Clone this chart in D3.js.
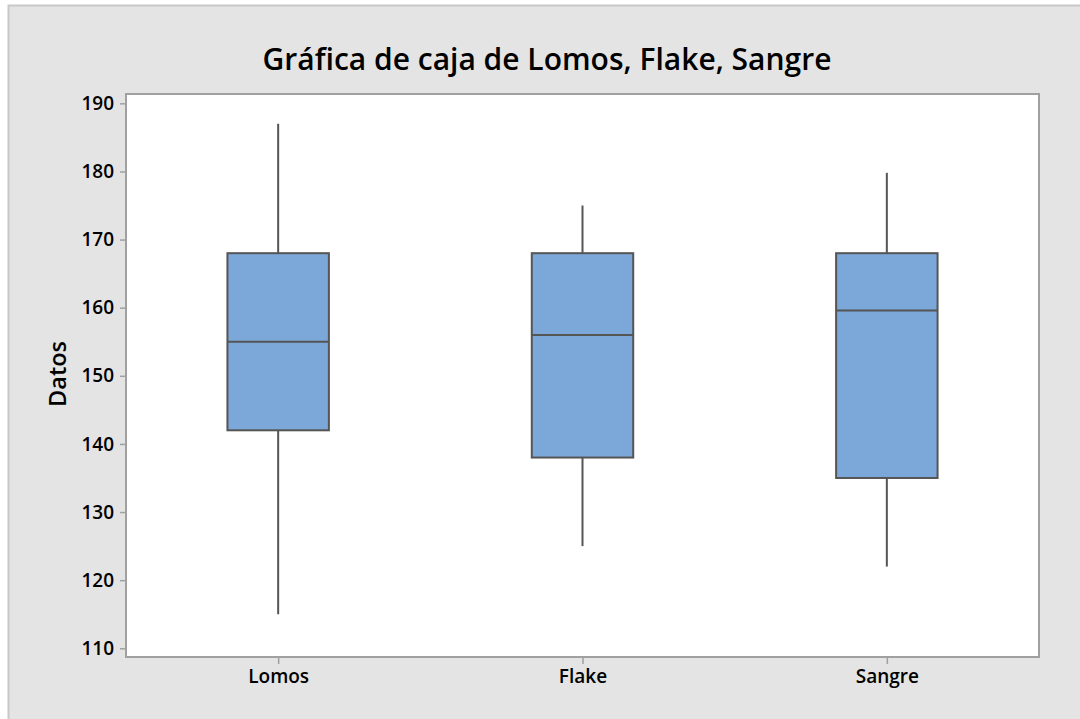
<!DOCTYPE html>
<html>
<head>
<meta charset="utf-8">
<script src="https://cdn.jsdelivr.net/npm/d3@7"></script>
<style>
  body { margin: 0; background: #fff; }
  svg { display: block; }
  text { font-family: "Open Sans", "Noto Sans", sans-serif; fill: #000; }
</style>
</head>
<body>
<div id="chart"></div>
<script>
const w = 1080;
const h = 719;

// values
const categories = ["Lomos", "Flake", "Sangre"];
const mins = [115, 125, 122];
const q1s = [142, 138, 135];
const medians = [155, 156, 159.6];
const q3s = [168, 168, 168];
const maxs = [187, 175, 179.8];
const yTicks = [110, 120, 130, 140, 150, 160, 170, 180, 190];

const plot = { left: 126, right: 1039, top: 94, bottom: 657 };

const svg = d3.select("#chart")
    .append("svg")
    .attr("width", w)
    .attr("height", h);

// outer graph area
svg.append("rect")
    .attr("x", 8.5)
    .attr("y", 5.5)
    .attr("width", w + 20)
    .attr("height", h + 20)
    .attr("fill", "#e4e4e4")
    .attr("stroke", "#c8c8c8")
    .attr("stroke-width", 2);

svg.append("text")
    .attr("x", 547)
    .attr("y", 70)
    .attr("text-anchor", "middle")
    .style("font-size", "30px")
    .style("font-weight", 600)
    .text("Gráfica de caja de Lomos, Flake, Sangre");

// plot area
svg.append("rect")
    .attr("x", plot.left)
    .attr("y", plot.top)
    .attr("width", plot.right - plot.left)
    .attr("height", plot.bottom - plot.top)
    .attr("fill", "#fff")
    .attr("stroke", "#a0a0a0")
    .attr("stroke-width", 2);

const x = d3.scalePoint()
    .domain(categories)
    .range([plot.left, plot.right])
    .padding(0.5);

const y = d3.scaleLinear()
    .domain([108.72, 191.37])
    .range([plot.bottom, plot.top]);

const yAxis = svg.append("g")
    .attr("transform", "translate(" + (plot.left - 1) + ",0)")
    .call(d3.axisLeft(y).tickValues(yTicks).tickSize(5).tickPadding(6));

const xAxis = svg.append("g")
    .attr("transform", "translate(0," + (plot.bottom + 1) + ")")
    .call(d3.axisBottom(x).tickSize(6).tickPadding(6));

[yAxis, xAxis].forEach(function(g) {
    g.select(".domain").remove();
    g.selectAll(".tick line").attr("stroke", "#a0a0a0").attr("stroke-width", 1.5);
    g.selectAll(".tick text")
        .style("font-size", "19px")
        .style("font-weight", 600)
        .style("font-family", "'Open Sans', sans-serif")
        .attr("fill", "#000");
});

svg.append("text")
    .attr("transform", "translate(66,374) rotate(-90)")
    .attr("text-anchor", "middle")
    .style("font-size", "23.5px")
    .style("font-weight", 600)
    .text("Datos");

const boxW = x.step() / 3;

const boxes = svg.selectAll(".box")
    .data(categories)
    .enter()
    .append("g")
    .attr("class", "box");

// whiskers
boxes.append("line")
    .attr("x1", d => x(d)).attr("x2", d => x(d))
    .attr("y1", (d, i) => y(maxs[i]))
    .attr("y2", (d, i) => y(q3s[i]))
    .attr("stroke", "#555").attr("stroke-width", 2);

boxes.append("line")
    .attr("x1", d => x(d)).attr("x2", d => x(d))
    .attr("y1", (d, i) => y(q1s[i]))
    .attr("y2", (d, i) => y(mins[i]))
    .attr("stroke", "#555").attr("stroke-width", 2);

boxes.append("rect")
    .attr("x", d => x(d) - boxW / 2)
    .attr("y", (d, i) => y(q3s[i]))
    .attr("width", boxW)
    .attr("height", (d, i) => y(q1s[i]) - y(q3s[i]))
    .attr("fill", "#7ba7d9")
    .attr("stroke", "#555")
    .attr("stroke-width", 2);

boxes.append("line")
    .attr("x1", d => x(d) - boxW / 2)
    .attr("x2", d => x(d) + boxW / 2)
    .attr("y1", (d, i) => y(medians[i]))
    .attr("y2", (d, i) => y(medians[i]))
    .attr("stroke", "#555").attr("stroke-width", 2);
</script>
</body>
</html>
